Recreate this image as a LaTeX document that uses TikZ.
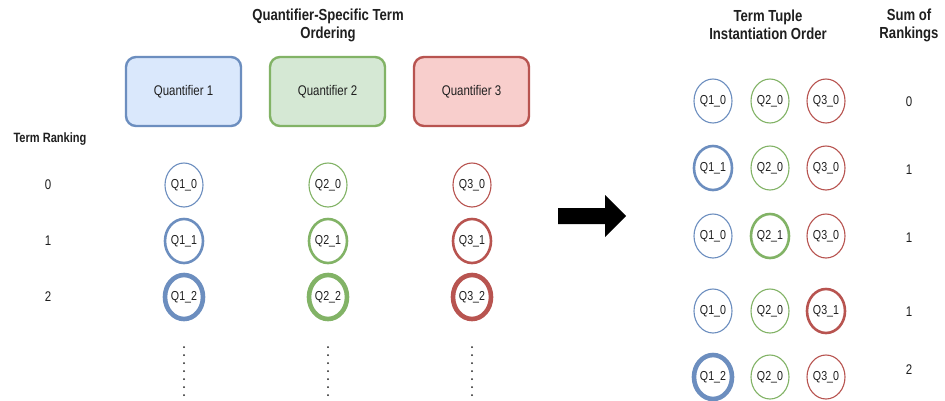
\documentclass[tikz,border=0pt]{standalone}
\usepackage{fontspec}
\setmainfont{Liberation Sans}[FakeStretch=0.82]
\usetikzlibrary{shapes.geometric}
\definecolor{bstroke}{HTML}{6C8EBF}
\definecolor{bfill}{HTML}{DAE8FC}
\definecolor{gstroke}{HTML}{82B366}
\definecolor{gfill}{HTML}{D5E8D4}
\definecolor{rstroke}{HTML}{B85450}
\definecolor{rfill}{HTML}{F8CECC}
\definecolor{txt}{HTML}{1F1F1F}
\begin{document}
\begin{tikzpicture}[x=1pt,y=-1pt,
  qbox/.style={draw, rounded corners=10pt, line width=2.4pt, minimum width=115pt, minimum height=69pt, font=\fontsize{14}{16}\selectfont, text=txt},
  term/.style={ellipse, draw, fill=white, minimum width=38pt, minimum height=44pt, inner sep=0pt, font=\fontsize{13}{15}\selectfont, text=txt},
  r0/.style={line width=1.1pt}, r1/.style={line width=2.6pt}, r2/.style={line width=4.6pt},
  qa/.style={draw=bstroke}, qb/.style={draw=gstroke}, qc/.style={draw=rstroke},
  head/.style={font=\bfseries\fontsize{16}{18}\selectfont, align=center, text=txt},
  num/.style={font=\fontsize{14}{16}\selectfont, text=txt},
  dotline/.style={line width=2pt, line cap=round, dash pattern=on 0pt off 8pt, draw=txt}]
\useasboundingbox (0,0) rectangle (945,400);
\fill[white] (0,0) rectangle (945,400);

% left headings
\node[head] (lt) at (328,25) {Quantifier-Specific Term\\Ordering};
\node[font=\bfseries\fontsize{13.5}{15}\selectfont, text=txt] (tr) at (50,139) {Term Ranking};

% quantifier boxes
\node[qbox, draw=bstroke, fill=bfill] (b1) at (183.5,91.5) {Quantifier 1};
\node[qbox, draw=gstroke, fill=gfill] (b2) at (327.5,91.5) {Quantifier 2};
\node[qbox, draw=rstroke, fill=rfill] (b3) at (471.5,91.5) {Quantifier 3};

% ranking numbers
\node[num] (n0) at (48,185) {0};
\node[num] (n1) at (48,241) {1};
\node[num] (n2) at (48,297) {2};

% term circles
\node[term, qa, r0] (a0) at (184,185) {Q1\_0};
\node[term, qa, r1] (a1) at (184,241) {Q1\_1};
\node[term, qa, r2] (a2) at (184,297) {Q1\_2};
\node[term, qb, r0] (g0) at (328,185) {Q2\_0};
\node[term, qb, r1] (g1) at (328,241) {Q2\_1};
\node[term, qb, r2] (g2) at (328,297) {Q2\_2};
\node[term, qc, r0] (c0) at (472,185) {Q3\_0};
\node[term, qc, r1] (c1) at (472,241) {Q3\_1};
\node[term, qc, r2] (c2) at (472,297) {Q3\_2};

% continuation dots
\coordinate (da1) at (184,347); \coordinate (da2) at (184,396);
\coordinate (dg1) at (328,347); \coordinate (dg2) at (328,396);
\coordinate (dc1) at (472,347); \coordinate (dc2) at (472,396);
\draw[dotline] (da1) -- (da2);
\draw[dotline] (dg1) -- (dg2);
\draw[dotline] (dc1) -- (dc2);

% big arrow
\fill[black] (558,208) -- (605,208) -- (605,195) -- (626,216) -- (605,237) -- (605,224) -- (558,224) -- cycle;

% right headings
\node[head] (rt) at (768,25) {Term Tuple\\Instantiation Order};
\node[head] (st) at (909,25) {Sum of\\Rankings};

% tuples
\node[term, qa, r0] (t1a) at (713,101) {Q1\_0};
\node[term, qb, r0] (t1b) at (770,101) {Q2\_0};
\node[term, qc, r0] (t1c) at (826,101) {Q3\_0};
\node[num] (s1) at (909,102) {0};

\node[term, qa, r1] (t2a) at (713,168) {Q1\_1};
\node[term, qb, r0] (t2b) at (770,168) {Q2\_0};
\node[term, qc, r0] (t2c) at (826,168) {Q3\_0};
\node[num] (s2) at (909,170) {1};

\node[term, qa, r0] (t3a) at (713,236) {Q1\_0};
\node[term, qb, r1] (t3b) at (770,236) {Q2\_1};
\node[term, qc, r0] (t3c) at (826,236) {Q3\_0};
\node[num] (s3) at (909,238) {1};

\node[term, qa, r0] (t4a) at (713,311) {Q1\_0};
\node[term, qb, r0] (t4b) at (770,311) {Q2\_0};
\node[term, qc, r1] (t4c) at (826,311) {Q3\_1};
\node[num] (s4) at (909,312) {1};

\node[term, qa, r2] (t5a) at (713,377) {Q1\_2};
\node[term, qb, r0] (t5b) at (770,377) {Q2\_0};
\node[term, qc, r0] (t5c) at (826,377) {Q3\_0};
\node[num] (s5) at (909,370) {2};
\end{tikzpicture}
\end{document}
